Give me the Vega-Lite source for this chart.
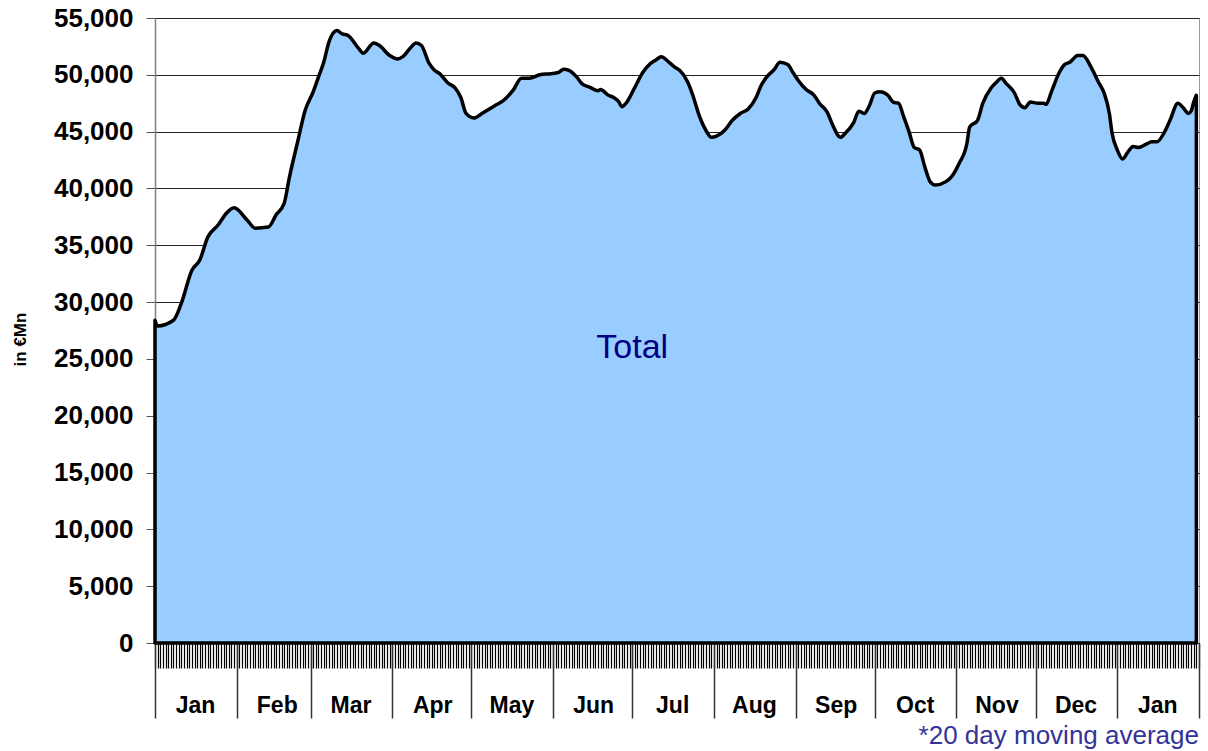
{
  "$schema": "https://vega.github.io/schema/vega-lite/v6.json",
  "width": 1044,
  "height": 625,
  "autosize": {"type": "none"},
  "padding": {"left": 155, "top": 18, "right": 9, "bottom": 108},
  "background": "white",
  "config": {"view": {"stroke": "#999999", "strokeWidth": 1}, "font": "Liberation Sans"},
  "title": {"text": "*20 day moving average", "orient": "bottom", "anchor": "end", "frame": "group", "color": "#333399", "fontSize": 26, "fontWeight": "normal", "font": "Liberation Sans", "offset": 4},
  "resolve": {"axis": {"x": "independent"}},
  "layer": [
    {
      "data": {"values": [
        {"date": "2009-01-01", "value": 28400},
        {"date": "2009-01-02", "value": 27900},
        {"date": "2009-01-08", "value": 28400},
        {"date": "2009-01-11", "value": 29900},
        {"date": "2009-01-15", "value": 32800},
        {"date": "2009-01-18", "value": 33700},
        {"date": "2009-01-21", "value": 35700},
        {"date": "2009-01-25", "value": 36800},
        {"date": "2009-01-28", "value": 37800},
        {"date": "2009-01-31", "value": 38300},
        {"date": "2009-02-05", "value": 37200},
        {"date": "2009-02-08", "value": 36500},
        {"date": "2009-02-13", "value": 36600},
        {"date": "2009-02-16", "value": 37700},
        {"date": "2009-02-19", "value": 38700},
        {"date": "2009-02-21", "value": 41000},
        {"date": "2009-02-24", "value": 44000},
        {"date": "2009-02-27", "value": 46900},
        {"date": "2009-03-02", "value": 48500},
        {"date": "2009-03-04", "value": 49800},
        {"date": "2009-03-06", "value": 51100},
        {"date": "2009-03-08", "value": 52900},
        {"date": "2009-03-11", "value": 53900},
        {"date": "2009-03-13", "value": 53600},
        {"date": "2009-03-15", "value": 53500},
        {"date": "2009-03-19", "value": 52400},
        {"date": "2009-03-21", "value": 51900},
        {"date": "2009-03-25", "value": 52800},
        {"date": "2009-03-27", "value": 52600},
        {"date": "2009-03-31", "value": 51700},
        {"date": "2009-04-03", "value": 51400},
        {"date": "2009-04-05", "value": 51600},
        {"date": "2009-04-08", "value": 52400},
        {"date": "2009-04-10", "value": 52800},
        {"date": "2009-04-12", "value": 52600},
        {"date": "2009-04-15", "value": 51000},
        {"date": "2009-04-17", "value": 50400},
        {"date": "2009-04-19", "value": 50100},
        {"date": "2009-04-22", "value": 49300},
        {"date": "2009-04-25", "value": 48800},
        {"date": "2009-04-27", "value": 48000},
        {"date": "2009-04-29", "value": 46600},
        {"date": "2009-05-02", "value": 46200},
        {"date": "2009-05-05", "value": 46600},
        {"date": "2009-05-10", "value": 47300},
        {"date": "2009-05-13", "value": 47700},
        {"date": "2009-05-17", "value": 48700},
        {"date": "2009-05-20", "value": 49700},
        {"date": "2009-05-23", "value": 49700},
        {"date": "2009-05-27", "value": 50000},
        {"date": "2009-05-31", "value": 50100},
        {"date": "2009-06-03", "value": 50200},
        {"date": "2009-06-05", "value": 50500},
        {"date": "2009-06-07", "value": 50400},
        {"date": "2009-06-10", "value": 49800},
        {"date": "2009-06-12", "value": 49200},
        {"date": "2009-06-15", "value": 48900},
        {"date": "2009-06-18", "value": 48600},
        {"date": "2009-06-19", "value": 48700},
        {"date": "2009-06-22", "value": 48200},
        {"date": "2009-06-24", "value": 48000},
        {"date": "2009-06-26", "value": 47600},
        {"date": "2009-06-27", "value": 47200},
        {"date": "2009-06-29", "value": 47600},
        {"date": "2009-07-02", "value": 48900},
        {"date": "2009-07-05", "value": 50200},
        {"date": "2009-07-08", "value": 51000},
        {"date": "2009-07-10", "value": 51300},
        {"date": "2009-07-12", "value": 51600},
        {"date": "2009-07-15", "value": 51100},
        {"date": "2009-07-17", "value": 50700},
        {"date": "2009-07-19", "value": 50400},
        {"date": "2009-07-22", "value": 49400},
        {"date": "2009-07-24", "value": 48200},
        {"date": "2009-07-26", "value": 46700},
        {"date": "2009-07-29", "value": 45100},
        {"date": "2009-07-31", "value": 44500},
        {"date": "2009-08-02", "value": 44600},
        {"date": "2009-08-05", "value": 45100},
        {"date": "2009-08-08", "value": 46000},
        {"date": "2009-08-11", "value": 46600},
        {"date": "2009-08-14", "value": 47000},
        {"date": "2009-08-17", "value": 48000},
        {"date": "2009-08-19", "value": 49100},
        {"date": "2009-08-21", "value": 49800},
        {"date": "2009-08-24", "value": 50500},
        {"date": "2009-08-26", "value": 51100},
        {"date": "2009-08-29", "value": 50900},
        {"date": "2009-08-31", "value": 50200},
        {"date": "2009-09-02", "value": 49500},
        {"date": "2009-09-05", "value": 48700},
        {"date": "2009-09-08", "value": 48200},
        {"date": "2009-09-10", "value": 47500},
        {"date": "2009-09-13", "value": 46700},
        {"date": "2009-09-15", "value": 45600},
        {"date": "2009-09-18", "value": 44500},
        {"date": "2009-09-20", "value": 44900},
        {"date": "2009-09-23", "value": 45800},
        {"date": "2009-09-25", "value": 46800},
        {"date": "2009-09-27", "value": 46600},
        {"date": "2009-09-29", "value": 47300},
        {"date": "2009-10-01", "value": 48400},
        {"date": "2009-10-03", "value": 48500},
        {"date": "2009-10-06", "value": 48200},
        {"date": "2009-10-08", "value": 47600},
        {"date": "2009-10-10", "value": 47500},
        {"date": "2009-10-12", "value": 46300},
        {"date": "2009-10-14", "value": 45000},
        {"date": "2009-10-16", "value": 43600},
        {"date": "2009-10-18", "value": 43400},
        {"date": "2009-10-20", "value": 41900},
        {"date": "2009-10-22", "value": 40600},
        {"date": "2009-10-24", "value": 40300},
        {"date": "2009-10-28", "value": 40600},
        {"date": "2009-10-30", "value": 41000},
        {"date": "2009-11-02", "value": 42200},
        {"date": "2009-11-05", "value": 44000},
        {"date": "2009-11-06", "value": 45400},
        {"date": "2009-11-09", "value": 46000},
        {"date": "2009-11-11", "value": 47500},
        {"date": "2009-11-14", "value": 48800},
        {"date": "2009-11-16", "value": 49300},
        {"date": "2009-11-18", "value": 49700},
        {"date": "2009-11-20", "value": 49200},
        {"date": "2009-11-23", "value": 48400},
        {"date": "2009-11-25", "value": 47400},
        {"date": "2009-11-27", "value": 47100},
        {"date": "2009-11-29", "value": 47600},
        {"date": "2009-12-02", "value": 47500},
        {"date": "2009-12-04", "value": 47500},
        {"date": "2009-12-05", "value": 47400},
        {"date": "2009-12-07", "value": 48500},
        {"date": "2009-12-10", "value": 50200},
        {"date": "2009-12-12", "value": 50900},
        {"date": "2009-12-14", "value": 51100},
        {"date": "2009-12-17", "value": 51700},
        {"date": "2009-12-19", "value": 51700},
        {"date": "2009-12-22", "value": 50700},
        {"date": "2009-12-25", "value": 49300},
        {"date": "2009-12-27", "value": 48400},
        {"date": "2009-12-29", "value": 46600},
        {"date": "2009-12-30", "value": 44900},
        {"date": "2010-01-01", "value": 43400},
        {"date": "2010-01-03", "value": 42600},
        {"date": "2010-01-05", "value": 43200},
        {"date": "2010-01-07", "value": 43700},
        {"date": "2010-01-09", "value": 43600},
        {"date": "2010-01-12", "value": 43900},
        {"date": "2010-01-14", "value": 44100},
        {"date": "2010-01-16", "value": 44100},
        {"date": "2010-01-19", "value": 45000},
        {"date": "2010-01-21", "value": 46000},
        {"date": "2010-01-24", "value": 47500},
        {"date": "2010-01-26", "value": 47100},
        {"date": "2010-01-28", "value": 46600},
        {"date": "2010-01-29", "value": 46800},
        {"date": "2010-01-30", "value": 47600},
        {"date": "2010-01-31", "value": 48200}
      ]},
      "mark": {"type": "area", "color": "#99CCFF", "stroke": "#000000", "strokeWidth": 3.5, "strokeJoin": "round", "interpolate": "monotone", "line": false},
      "encoding": {
        "x": {
          "field": "date", "type": "temporal",
          "scale": {"type": "utc", "domain": [{"year": 2009, "month": 1, "date": 1, "utc": true}, {"year": 2010, "month": 2, "date": 1, "utc": true}]},
          "axis": {"orient": "bottom", "domain": false, "labels": false, "grid": false, "ticks": true, "tickSize": 25, "tickColor": "#000000", "tickWidth": 1.2, "tickCount": {"interval": "day", "step": 1}, "title": null}
        },
        "y": {
          "field": "value", "type": "quantitative",
          "scale": {"domain": [0, 55000], "nice": false, "zero": true},
          "axis": {
            "values": [0, 5000, 10000, 15000, 20000, 25000, 30000, 35000, 40000, 45000, 50000, 55000],
            "format": ",.0f",
            "labelFont": "Liberation Sans", "labelFontSize": 26, "labelFontWeight": "bold", "labelColor": "#000000", "labelPadding": 13,
            "tickSize": 9, "tickColor": "#555555", "tickWidth": 1,
            "domainColor": "#808080", "domainWidth": 1.5,
            "grid": true, "gridColor": "#222222", "gridWidth": 1,
            "title": "in €Mn", "titleFont": "Liberation Sans", "titleFontSize": 17, "titleFontWeight": "bold", "titleColor": "#000000", "titlePadding": 24, "titleY": 321
          }
        }
      }
    },
    {
      "data": {"values": [{"date": "2009-07-01", "value": 26000, "label": "Total"}]},
      "mark": {"type": "text", "font": "Liberation Sans", "fontSize": 34, "color": "#000080", "align": "center", "baseline": "middle"},
      "encoding": {
        "x": {
          "field": "date", "type": "temporal",
          "scale": {"type": "utc", "domain": [{"year": 2009, "month": 1, "date": 1, "utc": true}, {"year": 2010, "month": 2, "date": 1, "utc": true}]},
          "axis": {"orient": "bottom", "domain": false, "grid": false, "tickCount": {"interval": "month", "step": 1}, "tickSize": 75, "tickColor": "#333333", "tickWidth": 1.5, "format": "%b", "labelExpr": "datum.value >= utc(2010, 1, 1) ? '' : utcFormat(datum.value, '%b')", "labelOffset": 40, "labelFlush": false, "labelOverlap": false, "labelPadding": -24, "labelFont": "Liberation Sans", "labelFontSize": 23, "labelFontWeight": "bold", "labelColor": "#000000", "labelBaseline": "top", "title": null}
        },
        "y": {
          "field": "value", "type": "quantitative",
          "scale": {"domain": [0, 55000], "nice": false, "zero": true},
          "axis": {
            "values": [0, 5000, 10000, 15000, 20000, 25000, 30000, 35000, 40000, 45000, 50000, 55000],
            "format": ",.0f",
            "labelFont": "Liberation Sans", "labelFontSize": 26, "labelFontWeight": "bold", "labelColor": "#000000", "labelPadding": 13,
            "tickSize": 9, "tickColor": "#555555", "tickWidth": 1,
            "domainColor": "#808080", "domainWidth": 1.5,
            "grid": true, "gridColor": "#222222", "gridWidth": 1,
            "title": "in €Mn", "titleFont": "Liberation Sans", "titleFontSize": 17, "titleFontWeight": "bold", "titleColor": "#000000", "titlePadding": 24, "titleY": 321
          }
        },
        "text": {"field": "label"}
      }
    }
  ]
}
